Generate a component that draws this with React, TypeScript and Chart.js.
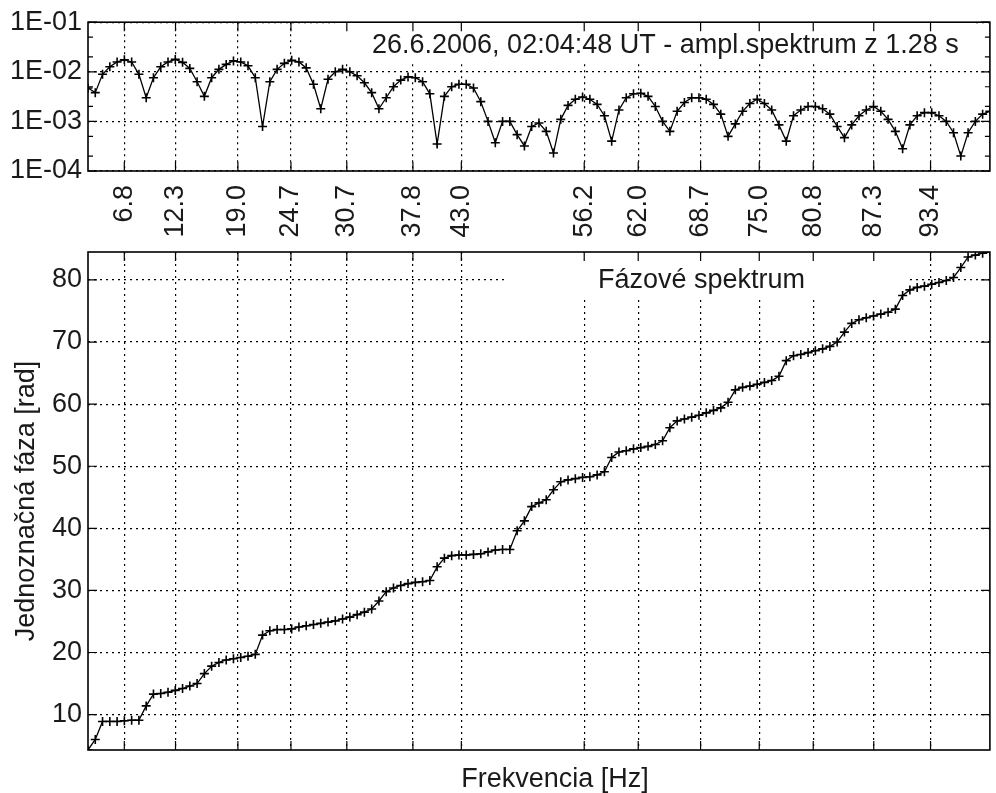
import { useEffect, useRef } from 'react';
import { Chart, registerables } from 'chart.js';

Chart.register(...registerables);

// Spectrum of a 1.28 s window: bins are 1/1.28 Hz apart.
const SEGMENT_SECONDS = 1.28;
const BIN_WIDTH = 1 / SEGMENT_SECONDS;
const FIRST_FREQ = 2.9;

// Amplitude spectrum (one value per frequency bin)
const AMPLITUDE = [
  0.0047, 0.0038, 0.0089, 0.0126, 0.0158, 0.0174, 0.0158, 0.0089, 0.003,
  0.0076, 0.0126, 0.0158, 0.0178, 0.0155, 0.0117, 0.0063, 0.0032,
  0.0076, 0.0112, 0.0141, 0.0166, 0.0158, 0.0132, 0.0076, 0.00079,
  0.0063, 0.0112, 0.0148, 0.017, 0.0158, 0.012, 0.0056, 0.0018,
  0.0071, 0.01, 0.0112, 0.01, 0.0083, 0.006, 0.0038, 0.0018,
  0.003, 0.005, 0.0068, 0.0079, 0.0076, 0.0063, 0.0036, 0.00035,
  0.0032, 0.005, 0.0056, 0.0056, 0.0047, 0.0025, 0.001, 0.00037,
  0.001, 0.001, 0.00054, 0.00032, 0.00079, 0.00093, 0.00063, 0.00023,
  0.0011, 0.0021, 0.0028, 0.0031, 0.0028, 0.0022, 0.0013, 0.0004,
  0.0017, 0.003, 0.0036, 0.0037, 0.0032, 0.002, 0.001, 0.00063,
  0.0016, 0.0024, 0.003, 0.003, 0.0028, 0.0022, 0.0014, 0.0005,
  0.00089, 0.0016, 0.0023, 0.0028, 0.0023, 0.0017, 0.00085, 0.0004,
  0.0013, 0.0017, 0.002, 0.002, 0.0018, 0.0014, 0.00079, 0.00047,
  0.00085, 0.0013, 0.0017, 0.002, 0.0016, 0.0011, 0.00063, 0.00028,
  0.00085, 0.0013, 0.0015, 0.0015, 0.0013, 0.001, 0.00059, 0.0002,
  0.00059, 0.001, 0.0014, 0.0016,
];

// Unwrapped phase spectrum [rad]
const PHASE = [
  4.3, 6.0, 8.9, 8.9, 8.9, 9.0, 9.1, 9.1, 11.4,
  13.3, 13.4, 13.6, 13.9, 14.2, 14.6, 15.0, 16.6,
  17.8, 18.4, 18.8, 19.0, 19.2, 19.4, 19.7, 22.8,
  23.5, 23.7, 23.7, 23.8, 24.1, 24.3, 24.5, 24.7,
  24.9, 25.1, 25.4, 25.7, 26.1, 26.5, 27.0, 28.3,
  29.8, 30.4, 30.8, 31.1, 31.3, 31.4, 31.6, 33.8,
  35.2, 35.6, 35.7, 35.7, 35.8, 35.9, 36.2, 36.5,
  36.6, 36.6, 39.6, 41.2, 43.5, 44.1, 44.6, 46.2,
  47.5, 47.8, 48.0, 48.2, 48.3, 48.6, 49.1, 51.4,
  52.3, 52.5, 52.8, 53.0, 53.2, 53.5, 54.1, 56.2,
  57.3, 57.6, 57.9, 58.2, 58.6, 59.0, 59.4, 60.3,
  62.3, 62.7, 62.9, 63.2, 63.5, 63.8, 64.5, 67.0,
  67.8, 68.0, 68.3, 68.6, 68.9, 69.3, 70.0, 71.6,
  73.0, 73.6, 73.9, 74.2, 74.5, 74.8, 75.3, 77.5,
  78.4, 78.8, 79.0, 79.3, 79.6, 79.9, 80.4, 82.0,
  83.7, 84.0, 84.3, 84.5,
];

const FREQUENCY = AMPLITUDE.map((_, i) => FIRST_FREQ + i * BIN_WIDTH);

// Frequency ticks placed at the amplitude maxima
const FREQ_TICKS = [6.8, 12.3, 19.0, 24.7, 30.7, 37.8, 43.0, 56.2, 62.0, 68.7, 75.0, 80.8, 87.3, 93.4];
const AMP_TICKS = [1e-4, 1e-3, 1e-2, 1e-1];
const AMP_TICK_LABELS = ['1E-04', '1E-03', '1E-02', '1E-01'];
const AMP_MINOR = [2e-4, 5e-4, 2e-3, 5e-3, 2e-2, 5e-2];
const PHASE_TICKS = [10, 20, 30, 40, 50, 60, 70, 80];

const AMP_TITLE = '26.6.2006, 02:04:48 UT - ampl.spektrum z 1.28 s';
const PHASE_TITLE = 'Fázové spektrum';
const X_TITLE = 'Frekvencia [Hz]';
const Y_TITLE = 'Jednoznačná fáza [rad]';

// Page layout (pixels)
const W = 996;
const H = 793;
const PLOT_LEFT = 88;
const PLOT_RIGHT = 995;
const AMP_TOP = 20;
const AMP_BOTTOM = 171;
const PHASE_TOP = 252;
const PHASE_BOTTOM = 750;

const FONT_FAMILY = "'Liberation Sans', Arial, sans-serif";
const FONT_SIZE = 27;
const INK = '#000';
const TEXT = '#1a1a1a';

type FrameCfg = { xTicks: number[]; yTicks: number[]; yMinor?: number[] };

// Box around the plot with inward tick marks on all four sides
function framePlugin(cfg: FrameCfg) {
  return {
    id: 'frame',
    afterDraw(chart: any) {
      const { ctx, chartArea: a, scales } = chart;
      const xs = scales.x;
      const ys = scales.y;
      const major = 9;
      const minor = 5;
      ctx.save();
      ctx.strokeStyle = INK;
      ctx.lineWidth = 1.2;
      ctx.beginPath();
      for (const v of cfg.xTicks) {
        const p = xs.getPixelForValue(v);
        ctx.moveTo(p, a.bottom);
        ctx.lineTo(p, a.bottom - major);
        ctx.moveTo(p, a.top);
        ctx.lineTo(p, a.top + major);
      }
      const yMark = (v: number, len: number) => {
        const p = ys.getPixelForValue(v);
        ctx.moveTo(a.left, p);
        ctx.lineTo(a.left + len, p);
        ctx.moveTo(a.right, p);
        ctx.lineTo(a.right - len, p);
      };
      cfg.yTicks.forEach((v) => yMark(v, major));
      (cfg.yMinor || []).forEach((v) => yMark(v, minor));
      ctx.stroke();
      ctx.lineWidth = 1.6;
      ctx.strokeRect(a.left, a.top, a.right - a.left, a.bottom - a.top);
      ctx.restore();
    },
  };
}

type NoteCfg = { box: [number, number, number, number]; text: string; x: number; y: number };

// Opaque legend-style caption inside the plot
function notePlugin(cfg: NoteCfg) {
  return {
    id: 'note',
    beforeDatasetsDraw(chart: any) {
      const { ctx } = chart;
      const [x0, y0, x1, y1] = cfg.box;
      ctx.save();
      ctx.fillStyle = '#fff';
      ctx.fillRect(x0, y0, x1 - x0, y1 - y0);
      ctx.fillStyle = TEXT;
      ctx.font = `${FONT_SIZE}px ${FONT_FAMILY}`;
      ctx.textAlign = 'left';
      ctx.textBaseline = 'alphabetic';
      ctx.fillText(cfg.text, cfg.x, cfg.y);
      ctx.restore();
    },
  };
}

const axisTitlesPlugin = {
  id: 'axisTitles',
  afterDraw(chart: any) {
    const { ctx } = chart;
    ctx.save();
    ctx.fillStyle = TEXT;
    ctx.font = `${FONT_SIZE}px ${FONT_FAMILY}`;
    ctx.textAlign = 'center';
    ctx.textBaseline = 'alphabetic';
    ctx.fillText(X_TITLE, 555, 787);
    ctx.translate(34, (PHASE_TOP + PHASE_BOTTOM) / 2);
    ctx.rotate(-Math.PI / 2);
    ctx.fillText(Y_TITLE, 0, 0);
    ctx.restore();
  },
};

const tickFont = { family: FONT_FAMILY, size: FONT_SIZE };

function lineDataset(values: number[]) {
  return {
    data: FREQUENCY.map((f, i) => ({ x: f, y: values[i] })),
    borderColor: INK,
    borderWidth: 1.3,
    pointStyle: 'cross' as const,
    pointRadius: 4.5,
    pointBorderColor: INK,
    pointBorderWidth: 1.6,
    pointBackgroundColor: INK,
    fill: false,
    tension: 0,
  };
}

function freqAxis(showLabels: boolean, bottomHeight: number) {
  return {
    type: 'linear' as const,
    position: 'bottom' as const,
    min: FREQUENCY[0],
    max: FREQUENCY[FREQUENCY.length - 1],
    afterBuildTicks: (s: any) => {
      s.ticks = FREQ_TICKS.map((v) => ({ value: v }));
    },
    afterFit: (s: any) => {
      s.height = bottomHeight;
    },
    ticks: {
      display: showLabels,
      autoSkip: false,
      minRotation: 90,
      maxRotation: 90,
      padding: 14,
      color: TEXT,
      font: tickFont,
      callback: (v: any) => Number(v).toFixed(1),
    },
    grid: { color: INK, lineWidth: 1.2, drawTicks: false },
    border: { display: false, dash: [2, 4] },
  };
}

export default function App() {
  const ampRef = useRef<HTMLCanvasElement>(null);
  const phaseRef = useRef<HTMLCanvasElement>(null);

  useEffect(() => {
    const ampChart = new Chart(ampRef.current!, {
      type: 'line',
      data: { datasets: [lineDataset(AMPLITUDE)] },
      options: {
        responsive: false,
        animation: false,
        events: [],
        layout: { padding: { top: AMP_TOP, right: W - PLOT_RIGHT, bottom: 0, left: 0 } },
        plugins: { legend: { display: false }, tooltip: { enabled: false } },
        scales: {
          x: freqAxis(true, H - AMP_BOTTOM),
          y: {
            type: 'logarithmic',
            min: 1e-4,
            max: 1e-1,
            afterBuildTicks: (s: any) => {
              s.ticks = AMP_TICKS.map((v) => ({ value: v }));
            },
            afterFit: (s: any) => {
              s.width = PLOT_LEFT;
            },
            ticks: {
              padding: 6,
              color: TEXT,
              font: tickFont,
              callback: (_v: any, i: number) => AMP_TICK_LABELS[i],
            },
            grid: { color: INK, lineWidth: 1.2, drawTicks: false },
            border: { display: false, dash: [2, 4] },
          },
        },
      } as any,
      plugins: [
        framePlugin({ xTicks: FREQ_TICKS, yTicks: AMP_TICKS, yMinor: AMP_MINOR }),
        notePlugin({ box: [335, 21, 975, 63], text: AMP_TITLE, x: 372, y: 53 }),
      ],
    });

    const phaseChart = new Chart(phaseRef.current!, {
      type: 'line',
      data: { datasets: [lineDataset(PHASE)] },
      options: {
        responsive: false,
        animation: false,
        events: [],
        layout: { padding: { top: PHASE_TOP, right: W - PLOT_RIGHT, bottom: 0, left: 0 } },
        plugins: { legend: { display: false }, tooltip: { enabled: false } },
        scales: {
          x: freqAxis(false, H - PHASE_BOTTOM),
          y: {
            type: 'linear',
            min: 4.3,
            max: 84.5,
            afterBuildTicks: (s: any) => {
              s.ticks = PHASE_TICKS.map((v) => ({ value: v }));
            },
            afterFit: (s: any) => {
              s.width = PLOT_LEFT;
            },
            ticks: { padding: 6, color: TEXT, font: tickFont },
            grid: { color: INK, lineWidth: 1.2, drawTicks: false },
            border: { display: false, dash: [2, 4] },
          },
        },
      } as any,
      plugins: [
        framePlugin({ xTicks: FREQ_TICKS, yTicks: PHASE_TICKS }),
        notePlugin({ box: [505, 253, 910, 300], text: PHASE_TITLE, x: 598, y: 288 }),
        axisTitlesPlugin,
      ],
    });

    return () => {
      ampChart.destroy();
      phaseChart.destroy();
    };
  }, []);

  const layer: React.CSSProperties = { position: 'absolute', left: 0, top: 0, width: W, height: H };

  return (
    <div style={{ position: 'absolute', left: 0, top: 0, width: W, height: H, background: '#fff' }}>
      <canvas ref={ampRef} width={W} height={H} style={layer} />
      <canvas ref={phaseRef} width={W} height={H} style={layer} />
    </div>
  );
}
